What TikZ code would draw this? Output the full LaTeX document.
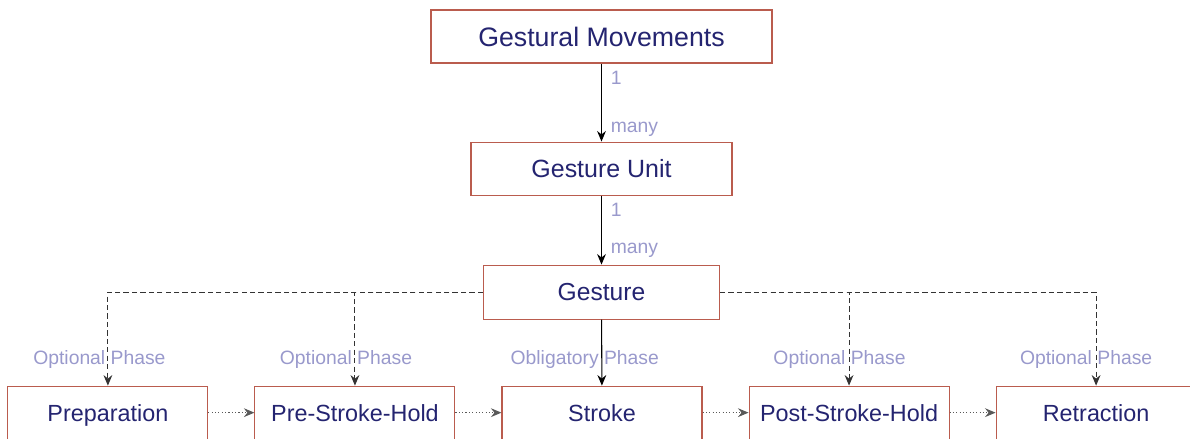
\documentclass[tikz,border=0pt]{standalone}
\usepackage{fontspec}
\setmainfont{Liberation Sans}
\usetikzlibrary{positioning, arrows.meta}

\definecolor{boxline}{RGB}{186,92,78}
\definecolor{boxtext}{RGB}{36,36,112}
\definecolor{labtext}{RGB}{153,153,204}

\begin{document}
\begin{tikzpicture}[
    phase/.style={draw=boxline, line width=0.6pt, text=boxtext, text depth=0pt, minimum width=4cm, minimum height=1.06cm, font=\fontsize{13.3}{16}\selectfont},
    lab/.style={text=labtext, font=\fontsize{11}{13}\selectfont, inner sep=1pt},
    tip/.style={-{Stealth[length=6pt, width=5pt, inset=2pt]}},
    solidarr/.style={tip, draw=black, line width=0.6pt},
    dasharr/.style={tip, draw=black!80, line width=0.6pt, dash pattern=on 3pt off 1.8pt},
    dotarr/.style={tip, draw=black!65, line width=0.6pt, dash pattern=on 0.6pt off 1.3pt}
  ]

  \clip (0,0) rectangle (23.8,-8.78);

  \node[phase, minimum width=6.82cm, font=\fontsize{15.2}{18}\selectfont] (GM) at (12.03,-0.73) {Gestural Movements};
  \node[phase, minimum width=5.22cm, font=\fontsize{14.2}{17}\selectfont, below=1.56cm of GM] (GU) {Gesture Unit};
  \node[phase, minimum width=4.72cm, minimum height=1.08cm, font=\fontsize{14}{17}\selectfont, below=1.38cm of GU] (G) {Gesture};

  \node[phase, below=1.32cm of G, xshift=0.01cm] (S) {Stroke};
  \node[phase, left=0.92cm of S] (PreH) {Pre-Stroke-Hold};
  \node[phase, left=0.92cm of PreH] (Prep) {Preparation};
  \node[phase, right=0.92cm of S] (PostH) {Post-Stroke-Hold};
  \node[phase, right=0.92cm of PostH] (Ret) {Retraction};

  \draw[solidarr] (GM) -- (GU)
    node[lab, pos=0.19, right=4pt] (GMone) {1}
    node[lab, pos=0.84, right=4pt] (GUmany) {many};
  \draw[solidarr] (GU) -- (G)
    node[lab, pos=0.2, right=4pt] (GUone) {1}
    node[lab, pos=0.79, right=4pt] (Gmany) {many};

  \draw[dasharr] (G.west) -| (Prep.north)
    node[lab, pos=0.86, xshift=-0.17cm] (PrepLab) {Optional Phase};
  \draw[dasharr] (G.west) -| (PreH.north)
    node[lab, pos=0.86, xshift=-0.18cm] (PreHLab) {Optional Phase};
  \draw[solidarr] (G) -- (S)
    node[lab, pos=0.6, xshift=-0.34cm] (SLab) {Obligatory Phase};
  \draw[dasharr] (G.east) -| (PostH.north)
    node[lab, pos=0.86, xshift=-0.19cm] (PostHLab) {Optional Phase};
  \draw[dasharr] (G.east) -| (Ret.north)
    node[lab, pos=0.86, xshift=-0.2cm] (RetLab) {Optional Phase};

  \draw[dotarr] (Prep) -- (PreH);
  \draw[dotarr] (PreH) -- (S);
  \draw[dotarr] (S) -- (PostH);
  \draw[dotarr] (PostH) -- (Ret);

\end{tikzpicture}
\end{document}
